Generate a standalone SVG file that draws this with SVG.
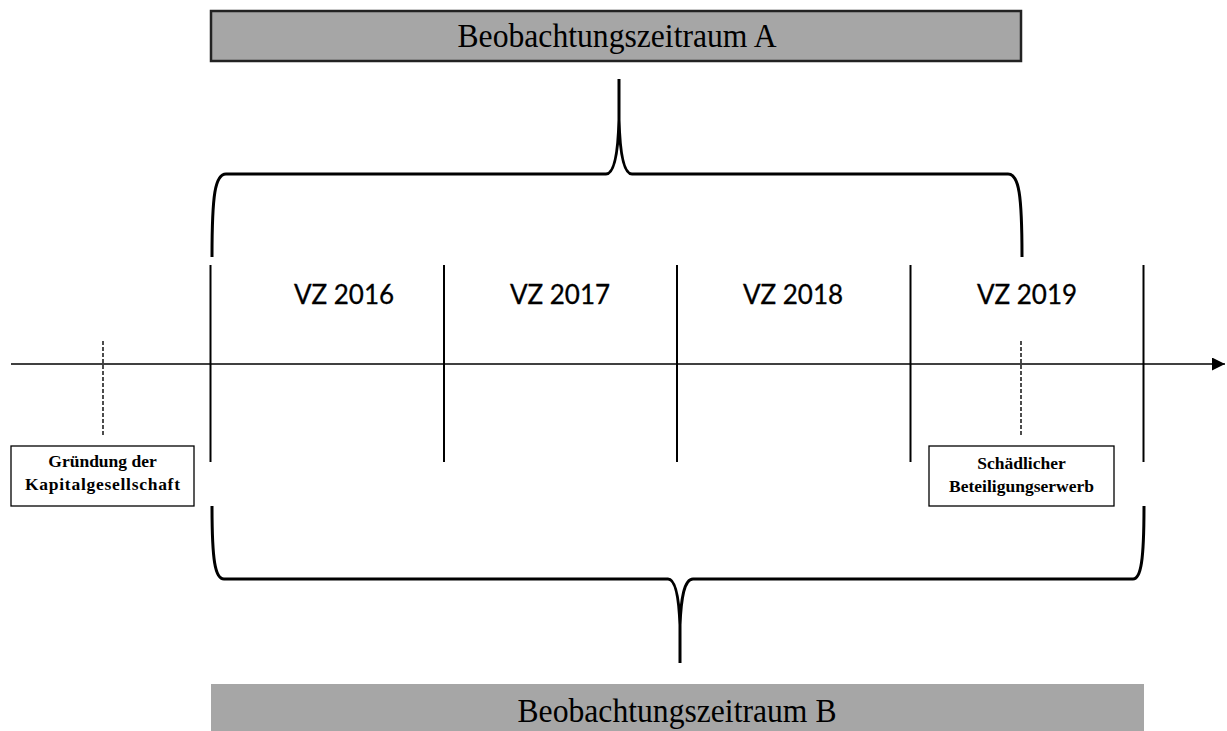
<svg xmlns="http://www.w3.org/2000/svg" width="1227" height="731" viewBox="0 0 1227 731">
<style>
.bar{fill:#a6a6a6}
.title{font-family:"Liberation Serif","Times New Roman",serif;font-size:33px;fill:#000;text-anchor:middle}
.vz{font-family:Lato,"Open Sans",sans-serif;font-size:26px;fill:#000;text-anchor:middle;stroke:#000;stroke-width:0.3}
.lbl{font-family:"Liberation Serif","Times New Roman",serif;font-size:17.5px;font-weight:bold;fill:#000;text-anchor:middle}
.tick{stroke:#000;stroke-width:2;fill:none}
.dash{stroke:#000;stroke-width:1.4;stroke-dasharray:4,2;fill:none}
.brace{stroke:#000;stroke-width:3;fill:none;stroke-linecap:butt}
.box{fill:#fff;stroke:#000;stroke-width:1.3}
</style>
<defs>
<marker id="arr" viewBox="0 0 12 12" refX="12" refY="6" markerWidth="13" markerHeight="13" markerUnits="userSpaceOnUse" orient="auto">
<path d="M0,0 L12,6 L0,12 Z" fill="#000"/>
</marker>
</defs>
<rect width="1227" height="731" fill="#fff"/>
<g id="periodA">
<rect class="bar" x="211" y="11" width="810" height="50" stroke="#222" stroke-width="2.5"/>
<text class="title" x="617" y="47" textLength="319" lengthAdjust="spacingAndGlyphs">Beobachtungszeitraum A</text>
</g>
<g id="periodB">
<rect class="bar" x="211" y="684" width="933" height="47"/>
<text class="title" x="677" y="722" textLength="319" lengthAdjust="spacingAndGlyphs">Beobachtungszeitraum B</text>
</g>
<g id="connectors">
<line x1="11" y1="364" x2="1225" y2="364" stroke="#000" stroke-width="1.5" marker-end="url(#arr)"/>
<line class="tick" x1="210.5" y1="265" x2="210.5" y2="462"/>
<line class="tick" x1="444" y1="265" x2="444" y2="462"/>
<line class="tick" x1="677" y1="265" x2="677" y2="462"/>
<line class="tick" x1="910.5" y1="265" x2="910.5" y2="462"/>
<line class="tick" x1="1143.5" y1="265" x2="1143.5" y2="462"/>
<line class="dash" x1="103" y1="341" x2="103" y2="437"/>
<line class="dash" x1="1021" y1="341" x2="1021" y2="437"/>
<path class="brace" d="M212,257 C212,195 215,174 226,174 L606,174 C614,174 618,155 619,120 L619,79 M619,120 C620,155 624,174 632,174 L1008,174 C1019,174 1022,195 1022,257"/>
<path class="brace" d="M212,506 C212,560 215,579 224,579 L668,579 C676,579 679,600 680,625 L680,663 M680,625 C681,600 684,579 693,579 L1133,579 C1141,579 1144,560 1144,506"/>
</g>
<g id="vz2016"><text class="vz" x="344" y="304">VZ 2016</text></g>
<g id="vz2017"><text class="vz" x="560" y="304">VZ 2017</text></g>
<g id="vz2018"><text class="vz" x="793" y="304">VZ 2018</text></g>
<g id="vz2019"><text class="vz" x="1027" y="304">VZ 2019</text></g>
<g id="gruendung">
<rect class="box" x="11" y="446" width="183" height="60"/>
<text class="lbl" x="102.5" y="467">Gründung der</text>
<text class="lbl" x="102.5" y="490" textLength="155" lengthAdjust="spacing">Kapitalgesellschaft</text>
</g>
<g id="erwerb">
<rect class="box" x="929" y="446" width="185" height="60"/>
<text class="lbl" x="1021.5" y="469">Schädlicher</text>
<text class="lbl" x="1021.5" y="492">Beteiligungserwerb</text>
</g>
</svg>
